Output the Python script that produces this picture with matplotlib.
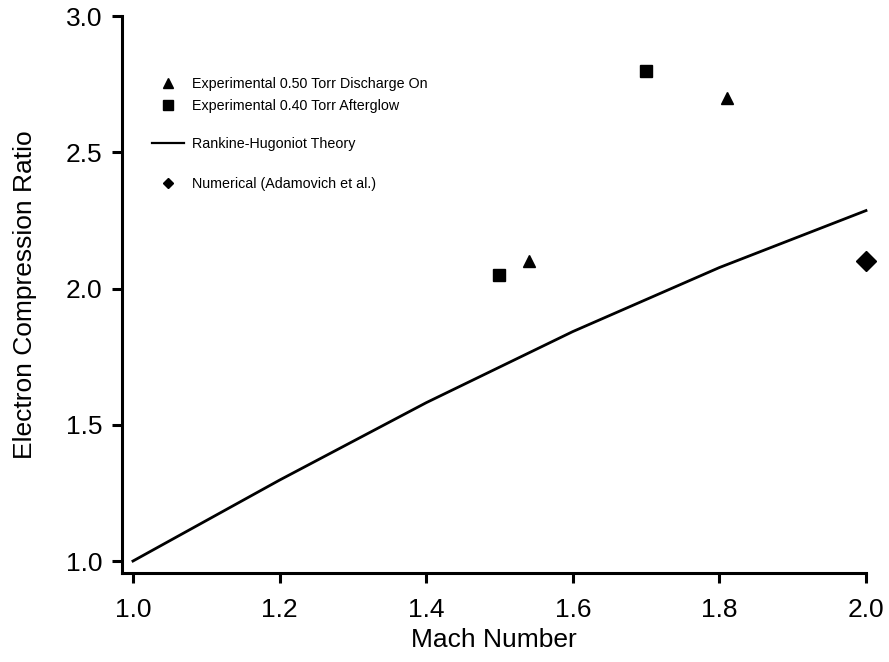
import matplotlib.pyplot as plt
from matplotlib.lines import Line2D

plt.rcParams['font.family'] = ['Liberation Sans', 'DejaVu Sans']

# discharge on, 0.50 Torr
mach_on = [1.54, 1.81]
ratio_on = [2.10, 2.70]
# afterglow, 0.40 Torr
mach_after = [1.50, 1.70]
ratio_after = [2.05, 2.80]
# Rankine-Hugoniot
mach_rh = [1.0, 1.2, 1.4, 1.6, 1.8, 2.0]
ratio_rh = [1.0, 1.297, 1.581, 1.842, 2.077, 2.286]
# numerical
mach_num = [2.0]
ratio_num = [2.10]

fig = plt.figure(figsize=(8.89, 6.62), dpi=100)
ax = fig.add_axes([0.1372, 0.1344, 0.8369, 0.8414])

ax.plot(mach_rh, ratio_rh, color='black', lw=2.0, clip_on=False)
ax.plot(mach_on, ratio_on, '^', color='black', ms=9, clip_on=False)
ax.plot(mach_after, ratio_after, 's', color='black', ms=8.5, clip_on=False)
ax.plot(mach_num, ratio_num, 'D', color='black', ms=10, clip_on=False)

ax.set_xlim(0.985, 2.0)
ax.set_ylim(0.956, 3.0)
ax.set_xticks([1.0, 1.2, 1.4, 1.6, 1.8, 2.0])
ax.set_yticks([1.0, 1.5, 2.0, 2.5, 3.0])
ax.xaxis.set_major_formatter(plt.FormatStrFormatter('%.1f'))
ax.yaxis.set_major_formatter(plt.FormatStrFormatter('%.1f'))
for s in ['top', 'right']:
    ax.spines[s].set_visible(False)
for s in ['left', 'bottom']:
    ax.spines[s].set_linewidth(2.2)
ax.tick_params(direction='out', length=7, width=2.2, labelsize=19)
ax.tick_params(axis='x', pad=11)
ax.tick_params(axis='y', pad=7)
ax.set_xlabel('Mach Number', fontsize=19, labelpad=4)
ax.set_ylabel('Electron Compression Ratio', fontsize=19, labelpad=21)

# legend in three groups
kw = dict(frameon=False, fontsize=10.3, handletextpad=0.6, borderaxespad=0,
          labelspacing=0.55)
h1 = [Line2D([], [], ls='', marker='^', color='black', ms=7),
      Line2D([], [], ls='', marker='s', color='black', ms=6.5)]
leg1 = ax.legend(h1, ['Experimental 0.50 Torr Discharge On',
                      'Experimental 0.40 Torr Afterglow'],
                 loc='upper left', bbox_to_anchor=(0.033, 0.9),
                 handlelength=2.2, **kw)
ax.add_artist(leg1)
h2 = [Line2D([], [], color='black', lw=1.6)]
leg2 = ax.legend(h2, ['Rankine-Hugoniot Theory'], loc='upper left',
                 bbox_to_anchor=(0.033, 0.793), handlelength=2.2, **kw)
ax.add_artist(leg2)
h3 = [Line2D([], [], ls='', marker='D', color='black', ms=5.5)]
ax.legend(h3, ['Numerical (Adamovich et al.)'], loc='upper left',
          bbox_to_anchor=(0.033, 0.722), handlelength=2.2, **kw)

fig.savefig('out.png', dpi=100)
